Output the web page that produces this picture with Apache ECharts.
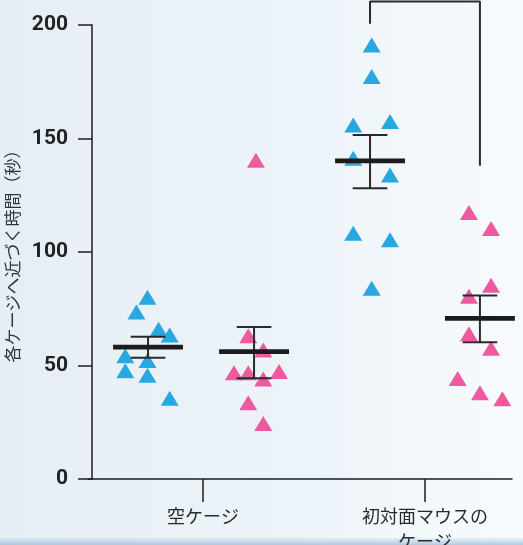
<!DOCTYPE html>
<html>
<head>
<meta charset="utf-8">
<script src="https://cdn.jsdelivr.net/npm/echarts@6/dist/echarts.min.js"></script>
<style>
  html, body { margin: 0; padding: 0; }
  #chart { width: 523px; height: 545px; }
</style>
</head>
<body>
<div id="chart"></div>
<script>
// Group labels and their positions on the x scale
const categories = ['空ケージ', '初対面マウスの\nケージ'];
const categoryPos = [10, 30];

// Individual animals: [x position (with jitter), time in seconds]
const emptyBlue = [[5, 80.1], [4, 73.6], [6, 66.0], [7, 63.4], [3, 54.3], [5, 52.2], [3, 47.7], [5, 45.7], [7, 35.6]];
const emptyPink = [[14.08, 63.1], [15.43, 56.8], [12.79, 46.8], [14.08, 46.8], [16.85, 47.4], [15.43, 44.0], [14.08, 33.6], [15.43, 24.4], [14.77, 140.4]];
const strangerBlue = [[25.2, 191.2], [25.2, 177.3], [23.54, 155.9], [26.85, 157.5], [23.54, 141.3], [26.85, 133.9], [23.54, 108.3], [26.85, 105.4], [25.2, 84.0]];
const strangerPink = [[33.96, 117.4], [35.95, 110.4], [35.95, 85.4], [33.96, 80.5], [33.96, 64.0], [35.95, 57.6], [32.95, 44.3], [34.95, 38.0], [36.97, 35.3]];

// Group means with error-bar bounds
const groupCenters = [5.05, 14.6, 25.05, 34.95];
const means = [58.1, 56.1, 140.1, 70.8];
const upper = [62.7, 67.0, 151.5, 80.8];
const lower = [53.4, 44.4, 128.1, 60.2];

// Significance bracket between the two groups of the second cage
const bracketX = [25.05, 34.95];
const bracketY = [200.5, 210.4, 138];

const yTicks = [0, 50, 100, 150, 200];

const BLUE = '#27a8e1';
const PINK = '#ee5a9f';
const INK = '#1c1c1c';

const chart = echarts.init(document.getElementById('chart'), null, { renderer: 'canvas' });

const summary = groupCenters.map((c, i) => [c, means[i], upper[i], lower[i]]);

function scatter(data, color) {
  return {
    type: 'scatter',
    data: data,
    symbol: 'triangle',
    symbolSize: [18, 15],
    itemStyle: { color: color, opacity: 1 },
    z: 2,
    emphasis: { disabled: true }
  };
}

chart.setOption({
  animation: false,
  backgroundColor: {
    type: 'linear', x: 0, y: 0, x2: 1, y2: 0,
    colorStops: [
      { offset: 0, color: '#e6eef5' },
      { offset: 0.6, color: '#edf4f9' },
      { offset: 1, color: '#f8fbfd' }
    ]
  },
  grid: { left: 88, right: 11, top: 25, bottom: 66, containLabel: false, outerBoundsMode: 'none' },
  xAxis: {
    type: 'value',
    min: -0.36,
    max: 37.84,
    splitLine: { show: false },
    axisLine: { show: true, lineStyle: { color: INK, width: 1.5 } },
    axisTick: {
      show: true, length: 23, customValues: categoryPos,
      lineStyle: { color: INK, width: 1.5 }
    },
    axisLabel: {
      customValues: categoryPos,
      formatter: v => categories[categoryPos.indexOf(v)] || '',
      margin: 25,
      fontSize: 18,
      lineHeight: 25,
      color: '#2a2a2a',
      fontFamily: '"Noto Sans CJK JP", sans-serif'
    }
  },
  yAxis: {
    type: 'value',
    min: 0,
    max: 200,
    interval: 50,
    name: '各ケージへ近づく時間（秒）',
    nameLocation: 'middle',
    nameRotate: 90,
    nameGap: 62,
    nameTextStyle: {
      fontSize: 17, color: '#333',
      fontFamily: '"Noto Sans CJK JP", sans-serif'
    },
    splitLine: { show: false },
    axisLine: { show: true, lineStyle: { color: INK, width: 1.5 } },
    axisTick: { show: true, length: 14, customValues: yTicks, lineStyle: { color: INK, width: 1.5 } },
    axisLabel: {
      margin: 20,
      fontSize: 21,
      fontWeight: 'bold',
      color: '#222',
      fontFamily: 'Roboto, sans-serif'
    }
  },
  graphic: [{
    type: 'rect',
    shape: { x: 0, y: 538, width: 523, height: 7 },
    style: {
      fill: {
        type: 'linear', x: 0, y: 0, x2: 0, y2: 1,
        colorStops: [{ offset: 0, color: 'rgba(170,195,220,0.2)' }, { offset: 1, color: 'rgba(150,180,210,0.7)' }]
      }
    },
    z: -1
  }],
  series: [
    scatter(emptyBlue, BLUE),
    scatter(emptyPink, PINK),
    scatter(strangerBlue, BLUE),
    scatter(strangerPink, PINK),
    {
      // mean bar + error bar per group
      type: 'custom',
      data: summary,
      z: 5,
      renderItem: function (params, api) {
        const cx = api.value(0);
        const m = api.coord([cx, api.value(1)]);
        const hi = api.coord([cx, api.value(2)]);
        const lo = api.coord([cx, api.value(3)]);
        const halfMean = api.size([3.15, 0])[0];
        const halfCap = api.size([1.56, 0])[0];
        const lineStyle = { stroke: '#2a2a2a', lineWidth: 2 };
        return {
          type: 'group',
          children: [
            { type: 'line', shape: { x1: hi[0], y1: hi[1], x2: lo[0], y2: lo[1] }, style: lineStyle },
            { type: 'line', shape: { x1: hi[0] - halfCap, y1: hi[1], x2: hi[0] + halfCap, y2: hi[1] }, style: lineStyle },
            { type: 'line', shape: { x1: lo[0] - halfCap, y1: lo[1], x2: lo[0] + halfCap, y2: lo[1] }, style: lineStyle },
            { type: 'rect', shape: { x: m[0] - halfMean, y: m[1] - 2.4, width: 2 * halfMean, height: 4.8 }, style: { fill: INK } }
          ]
        };
      }
    },
    {
      // bracket
      type: 'line',
      data: [[bracketX[0], bracketY[0]], [bracketX[0], bracketY[1]], [bracketX[1], bracketY[1]], [bracketX[1], bracketY[2]]],
      symbol: 'none',
      clip: false,
      lineStyle: { color: '#2a2a2a', width: 2 },
      z: 4
    }
  ]
});
</script>
</body>
</html>
